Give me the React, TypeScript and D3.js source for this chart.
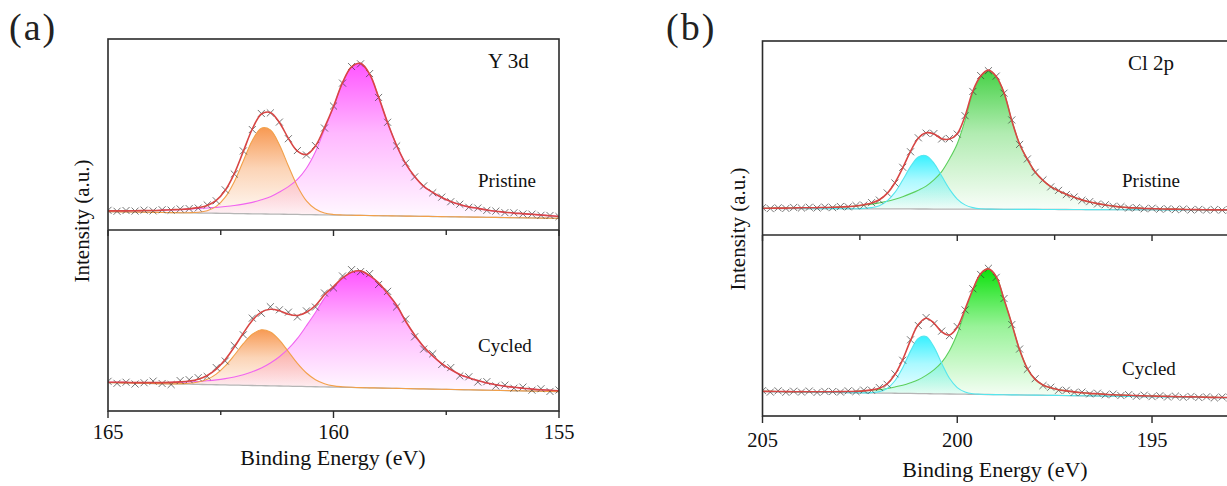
import React from 'react';
import * as d3 from 'd3';

// binding energy grids (instrument step 0.2 eV)
const energyA = d3.range(0, 51).map((i) => +(165 - i * 0.2).toFixed(1));
const energyB = d3.range(0, 61).map((i) => +(205 - i * 0.2).toFixed(1));

// axis ticks
const majorA = [165, 160, 155];
const minorA = [162.5, 157.5];
const majorB = [205, 200, 195];
const minorB = [202.5, 197.5, 192.5];

// ---- (a) Y 3d, pristine ----
const dataA1 = [10.3, 9.8, 10.2, 9.9, 10.4, 10.0, 10.6, 10.4, 11.0, 11.2, 11.5, 13.1, 15.3, 21.0, 29.3, 41.4, 52.6, 61.0, 61.3, 56.5, 47.8, 41.6, 39.3, 44.2, 53.4, 64.9, 76.9, 85.6, 87.0, 81.9, 69.4, 56.4, 44.0, 35.0, 27.8, 23.1, 19.5, 17.2, 14.8, 13.5, 11.9, 11.5, 10.3, 9.9, 9.1, 9.0, 8.4, 8.3, 7.7, 7.6, 7.0];
const orangeA1 = [0, 0, 0, 0, 0, 0, 0, 0, 0, 0.1, 0.4, 1.3, 3.6, 8.5, 16.7, 27.6, 38.4, 44.9, 44.1, 36.4, 25.3, 14.8, 7.2, 3.0, 1.0, 0.3, 0.1, 0, 0, 0, 0, 0, 0, 0, 0, 0, 0, 0, 0, 0, 0, 0, 0, 0, 0, 0, 0, 0, 0, 0, 0];
const magentaA1 = [0.4, 0.5, 0.55, 0.7, 0.85, 0.95, 1.2, 1.5, 1.7, 2.0, 2.4, 2.7, 3.1, 3.6, 4.2, 5.0, 6.0, 7.4, 9.1, 11.6, 14.5, 18.4, 24.3, 33.0, 44.7, 56.5, 69.3, 77.7, 79.6, 74.1, 62.1, 48.7, 36.9, 27.5, 20.8, 15.7, 12.6, 10.0, 8.0, 6.5, 5.3, 4.6, 3.8, 3.2, 2.8, 2.4, 2.2, 1.9, 1.6, 1.3, 1.0];
const bgA1 = [9.6, 6.1];

// ---- (a) Y 3d, cycled ----
const dataA2 = [16.4, 15.3, 15.9, 14.9, 15.6, 16.5, 15.2, 14.6, 16.8, 17.3, 18.4, 19.1, 24.0, 27.6, 36.2, 42.1, 51.3, 54.0, 57.6, 55.9, 54.6, 52.0, 55.3, 57.4, 65.2, 68.0, 74.6, 78.1, 77.0, 75.9, 69.9, 66.1, 57.5, 50.8, 41.0, 34.2, 31.6, 25.7, 24.0, 19.4, 18.9, 16.0, 16.2, 13.8, 14.3, 12.6, 13.2, 11.5, 12.3, 10.8, 11.6];
const orangeA2 = [0, 0, 0, 0, 0, 0, 0, 0, 0.2, 0.5, 1.3, 2.9, 5.9, 10.5, 16.5, 23.0, 28.3, 30.9, 29.7, 25.4, 19.1, 12.7, 7.5, 3.9, 1.8, 0.7, 0.3, 0.1, 0, 0, 0, 0, 0, 0, 0, 0, 0, 0, 0, 0, 0, 0, 0, 0, 0, 0, 0, 0, 0, 0, 0];
const magentaA2 = [0.2, 0.3, 0.3, 0.3, 0.4, 0.5, 0.6, 0.8, 1.0, 1.3, 1.6, 2.1, 2.7, 3.5, 4.5, 5.8, 7.6, 9.7, 12.6, 16.2, 20.7, 26.5, 33.6, 41.0, 49.1, 54.9, 60.1, 63.6, 64.5, 62.0, 58.1, 52.3, 45.9, 37.2, 29.7, 23.3, 18.4, 14.2, 11.0, 8.4, 6.7, 5.2, 4.0, 3.1, 2.4, 1.9, 1.5, 1.1, 0.8, 0.7, 0.5];
const bgA2 = [15.7, 10.7];

// ---- (b) Cl 2p, pristine ----
const dataB1 = [14.1, 13.6, 14.0, 13.7, 14.2, 13.9, 14.3, 13.9, 14.4, 14.1, 14.7, 14.5, 15.2, 15.4, 16.7, 18.0, 21.7, 26.8, 34.9, 42.9, 50.1, 52.5, 52.3, 49.5, 49.7, 52.0, 61.5, 74.0, 82.2, 84.7, 81.9, 73.1, 59.3, 46.7, 39.2, 32.3, 28.4, 24.8, 23.0, 20.8, 19.6, 17.9, 17.2, 16.0, 15.6, 14.8, 14.6, 13.9, 14.1, 13.5, 13.8, 13.3, 13.5, 13.1, 13.4, 12.9, 13.2, 12.8, 13.1, 12.8, 13.0];
const cyanB1 = [0, 0, 0, 0, 0, 0, 0, 0, 0, 0, 0, 0, 0, 0.2, 0.6, 1.6, 4.1, 8.5, 14.9, 21.8, 26.8, 27.5, 23.7, 17.0, 10.3, 5.2, 2.2, 0.8, 0.2, 0.1, 0, 0, 0, 0, 0, 0, 0, 0, 0, 0, 0, 0, 0, 0, 0, 0, 0, 0, 0, 0, 0, 0, 0, 0, 0, 0, 0, 0, 0, 0, 0];
const greenB1 = [0.1, 0.1, 0.2, 0.2, 0.3, 0.4, 0.4, 0.5, 0.6, 0.7, 0.9, 1.1, 1.4, 1.9, 2.4, 3.1, 3.9, 5.0, 6.3, 7.9, 9.7, 11.8, 15.0, 19.3, 25.8, 33.7, 45.8, 60.1, 68.4, 71.6, 68.4, 60.1, 45.8, 33.7, 25.8, 19.3, 15.0, 11.8, 9.7, 7.9, 6.3, 5.0, 3.9, 3.1, 2.4, 1.9, 1.4, 1.1, 0.9, 0.7, 0.6, 0.5, 0.4, 0.4, 0.3, 0.2, 0.2, 0.1, 0.1, 0.1, 0.1];
const bgB1 = [13.7, 12.8];

// ---- (b) Cl 2p, cycled ----
const dataB2 = [14.0, 13.2, 13.9, 13.1, 13.7, 13.2, 13.8, 13.0, 13.6, 13.5, 13.2, 13.9, 13.5, 14.3, 14.2, 15.7, 17.5, 23.3, 30.8, 42.1, 50.0, 54.4, 51.0, 46.9, 44.4, 49.4, 58.6, 70.3, 78.2, 81.6, 76.6, 64.9, 50.5, 37.0, 25.8, 20.6, 16.8, 15.9, 14.2, 14.2, 13.0, 13.2, 12.2, 12.6, 11.7, 12.1, 11.3, 11.8, 10.9, 11.5, 10.7, 11.2, 10.5, 11.0, 10.3, 10.8, 10.2, 10.6, 10.0, 10.5, 10.0];
const cyanB2 = [0, 0, 0, 0, 0, 0, 0, 0, 0, 0, 0, 0, 0, 0, 0.2, 0.8, 2.6, 6.9, 14.2, 23.4, 30.5, 31.6, 25.9, 16.9, 8.7, 3.6, 1.2, 0.3, 0.1, 0, 0, 0, 0, 0, 0, 0, 0, 0, 0, 0, 0, 0, 0, 0, 0, 0, 0, 0, 0, 0, 0, 0, 0, 0, 0, 0, 0, 0, 0, 0, 0];
const greenB2 = [0.1, 0.1, 0.1, 0.1, 0.1, 0.2, 0.2, 0.3, 0.3, 0.4, 0.5, 0.6, 0.8, 1.1, 1.5, 1.9, 2.6, 3.5, 4.5, 5.9, 7.6, 10.1, 13.2, 17.4, 23.9, 33.3, 45.8, 57.6, 66.6, 69.4, 65.2, 52.7, 39.2, 25.0, 14.6, 8.7, 5.7, 4.2, 3.2, 2.6, 2.1, 1.7, 1.4, 1.2, 1.0, 0.8, 0.7, 0.6, 0.5, 0.4, 0.4, 0.3, 0.3, 0.2, 0.2, 0.2, 0.2, 0.1, 0.1, 0.1, 0.1];
const bgB2 = [13.54, 9.94];

const FONT = "'Liberation Serif', 'Times New Roman', serif";

type Comp = { values: number[]; line: string; fill: string };
type RowDef = { label: string; labelX: number; labelY: number; data: number[]; bg: number[]; comps: Comp[] };
type PanelDef = {
  id: string; tag: string; tagX: number; element: string; elemX: number; elemY: number;
  energy: number[]; xDomain: [number, number]; left: number; right: number;
  top: number; mid: number; bottom: number; major: number[]; minor: number[];
  tickY: number; titleX: number; titleY: number; yTitleX: number; yTitleY: number;
  rows: RowDef[];
};

const orange = { line: '#f2a04a', fill: '#f7944a' };
const magenta = { line: '#f064f0', fill: '#ff4cff' };
const cyan = { line: '#55e6ee', fill: '#2cf0ff' };
const green = { line: '#5ccf5c', fill: '#3ccf3c' };
const green2 = { line: '#5ccf5c', fill: '#00e000' };

const panels: PanelDef[] = [
  {
    id: 'a', tag: '(a)', tagX: 9, element: 'Y 3d', elemX: 488, elemY: 68,
    energy: energyA, xDomain: [165, 155], left: 108, right: 559,
    top: 39, mid: 230, bottom: 411, major: majorA, minor: minorA,
    tickY: 439, titleX: 333, titleY: 465, yTitleX: 89, yTitleY: 221,
    rows: [
      { label: 'Pristine', labelX: 478, labelY: 187, data: dataA1, bg: bgA1,
        comps: [{ values: magentaA1, ...magenta }, { values: orangeA1, ...orange }] },
      { label: 'Cycled', labelX: 478, labelY: 352, data: dataA2, bg: bgA2,
        comps: [{ values: magentaA2, ...magenta }, { values: orangeA2, ...orange }] },
    ],
  },
  {
    id: 'b', tag: '(b)', tagX: 666, element: 'Cl 2p', elemX: 1128, elemY: 70,
    energy: energyB, xDomain: [205, 192.5], left: 762.5, right: 1249.4,
    top: 41, mid: 235, bottom: 416, major: majorB, minor: minorB,
    tickY: 447, titleX: 995, titleY: 477, yTitleX: 745, yTitleY: 229,
    rows: [
      { label: 'Pristine', labelX: 1122, labelY: 187, data: dataB1, bg: bgB1,
        comps: [{ values: greenB1, ...green }, { values: cyanB1, ...cyan }] },
      { label: 'Cycled', labelX: 1122, labelY: 375, data: dataB2, bg: bgB2,
        comps: [{ values: greenB2, ...green2 }, { values: cyanB2, ...cyan }] },
    ],
  },
];

function Row({ p, row, idx }: { p: PanelDef; row: RowDef; idx: number }) {
  const x = d3.scaleLinear().domain(p.xDomain).range([p.left, p.right]);
  const y0 = idx === 0 ? p.top : p.mid;
  const y1 = idx === 0 ? p.mid : p.bottom;
  const y = d3.scaleLinear().domain([0, 100]).range([y1, y0]);
  // linear background, end points read at the two ends of the axis
  const bgScale = d3.scaleLinear().domain(p.xDomain).range(row.bg);
  const E = p.energy;
  const bg = E.map((e) => bgScale(e));
  const fit = E.map((_, i) => bg[i] + d3.sum(row.comps, (c) => c.values[i]));

  const line = d3.line<number>().x((_, i) => x(E[i])).y((v) => y(v)).curve(d3.curveCatmullRom);
  const clipId = `clip-${p.id}-${idx}`;
  const cross = d3.symbol().type(d3.symbolX).size(34)();

  return (
    <g>
      <defs>
        <clipPath id={clipId}>
          <rect x={p.left} y={y0} width={p.right - p.left} height={y1 - y0} />
        </clipPath>
        {row.comps.map((c, k) => (
          <linearGradient key={k} id={`g-${p.id}-${idx}-${k}`} x1="0" y1="0" x2="0" y2="1">
            <stop offset="0%" stopColor={c.fill} stopOpacity={0.95} />
            <stop offset="45%" stopColor={c.fill} stopOpacity={0.4} />
            <stop offset="100%" stopColor={c.fill} stopOpacity={0.03} />
          </linearGradient>
        ))}
      </defs>
      <g clipPath={`url(#${clipId})`}>
        {row.comps.map((c, k) => {
          const area = d3.area<number>()
            .x((_, i) => x(E[i]))
            .y0((_, i) => y(bg[i]))
            .y1((v, i) => y(bg[i] + v))
            .curve(d3.curveCatmullRom);
          return <path key={`f${k}`} d={area(c.values) || ''} fill={`url(#g-${p.id}-${idx}-${k})`} />;
        })}
        <path d={line(bg) || ''} fill="none" stroke="#b5b5b5" strokeWidth={1.3} />
        {row.comps.map((c, k) => (
          <path key={`l${k}`} d={line(c.values.map((v, i) => v + bg[i])) || ''} fill="none" stroke={c.line} strokeWidth={1.1} />
        ))}
        {row.data.map((v, i) => (
          <path key={`d${i}`} d={cross || ''} transform={`translate(${x(E[i])},${y(v)})`} fill="none" stroke="#333" strokeWidth={0.8} strokeOpacity={0.85} />
        ))}
        <path d={line(fit) || ''} fill="none" stroke="#d84644" strokeWidth={1.6} />
      </g>
      <text x={row.labelX} y={row.labelY} fontFamily={FONT} fontSize={19} fill="#111">{row.label}</text>
    </g>
  );
}

function Panel({ p }: { p: PanelDef }) {
  const x = d3.scaleLinear().domain(p.xDomain).range([p.left, p.right]);
  const stroke = '#2b2b2b';
  return (
    <g>
      {p.rows.map((r, i) => <Row key={i} p={p} row={r} idx={i} />)}
      <rect x={p.left} y={p.top} width={p.right - p.left} height={p.bottom - p.top} fill="none" stroke={stroke} strokeWidth={1.6} />
      <line x1={p.left} x2={p.right} y1={p.mid} y2={p.mid} stroke={stroke} strokeWidth={1.6} />
      {/* ticks on the divider, pointing down */}
      {[...p.major, ...p.minor].map((t) => (
        <line key={`m${t}`} x1={x(t)} x2={x(t)} y1={p.mid} y2={p.mid + (p.major.includes(t) ? 6 : 5)} stroke={stroke} strokeWidth={1.4} />
      ))}
      {/* bottom axis ticks */}
      {p.major.map((t) => (
        <line key={`b${t}`} x1={x(t)} x2={x(t)} y1={p.bottom} y2={p.bottom + 7} stroke={stroke} strokeWidth={1.4} />
      ))}
      {p.minor.map((t) => (
        <line key={`n${t}`} x1={x(t)} x2={x(t)} y1={p.bottom} y2={p.bottom + 4} stroke={stroke} strokeWidth={1.4} />
      ))}
      {p.major.map((t) => (
        <text key={`t${t}`} x={x(t)} y={p.tickY} textAnchor="middle" fontFamily={FONT} fontSize={20.5} fill="#111">{t}</text>
      ))}
      <text x={p.titleX} y={p.titleY} textAnchor="middle" fontFamily={FONT} fontSize={22} fill="#111">Binding Energy (eV)</text>
      <text transform={`translate(${p.yTitleX},${p.yTitleY}) rotate(-90)`} textAnchor="middle" fontFamily={FONT} fontSize={21} fill="#111">Intensity (a.u.)</text>
      <text x={p.elemX} y={p.elemY} fontFamily={FONT} fontSize={21} fill="#111">{p.element}</text>
      <text x={p.tagX} y={40} fontFamily={FONT} fontSize={38} letterSpacing={2} fill="#222">{p.tag}</text>
    </g>
  );
}

export default function App() {
  return (
    <svg width={1227} height={486} style={{ position: 'absolute', left: 0, top: 0, background: '#fff' }}>
      <rect width={1227} height={486} fill="#fff" />
      {panels.map((p) => <Panel key={p.id} p={p} />)}
    </svg>
  );
}
